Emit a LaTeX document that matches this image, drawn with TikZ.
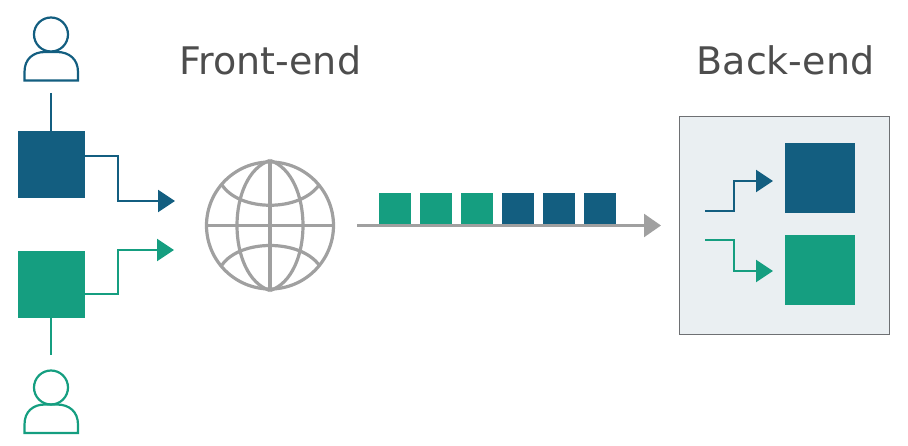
\documentclass[tikz,border=0pt]{standalone}
\usepackage{fontspec}
\setmainfont{DejaVu Sans}
\usetikzlibrary{arrows.meta}
\definecolor{cblue}{HTML}{135E80}
\definecolor{cgreen}{HTML}{159E80}
\definecolor{cgray}{HTML}{A0A0A0}
\definecolor{ctext}{HTML}{4D4D4D}
\definecolor{cpanel}{HTML}{EAEFF2}
\definecolor{cedge}{HTML}{6E7073}
\tikzset{
  x=1pt,y=-1pt,
  block/.style n args={2}{fill=#1,draw=none,inner sep=0pt,minimum width=#2,minimum height=#2},
  link/.style={draw=#1,line width=2.2pt},
  flow/.style={draw=#1,line width=2.2pt,-{Triangle[length=17pt,width=22pt,fill=#1]},line join=miter},
  person/.style={draw=#1,line width=2.2pt,fill=none},
  globeline/.style={draw=cgray,line width=3.2pt},
  title/.style={text=ctext,font=\fontsize{38}{41}\selectfont,anchor=base west,inner sep=0pt},
}
\begin{document}
\begin{tikzpicture}
\useasboundingbox (0,0) rectangle (908,446);
% titles
\node[title] (front) at (179.5,74.5) {Front-end};
\node[title] (back) at (696.5,74.5) {Back-end};
% users
\node[person=cblue,circle,minimum size=34pt,inner sep=0pt] (headA) at (51,34.5) {};
\draw[person=cblue] (24.5,80.5) -- (24.5,72) .. controls (24.5,59) and (33,52) .. (45,52) -- (57,52) .. controls (69,52) and (78,59) .. (78,72) -- (78,80.5) -- cycle;
\node[person=cgreen,circle,minimum size=34pt,inner sep=0pt] (headB) at (51,387.5) {};
\draw[person=cgreen] (24.5,433) -- (24.5,424.5) .. controls (24.5,411.5) and (33,404.5) .. (45,404.5) -- (57,404.5) .. controls (69,404.5) and (78,411.5) .. (78,424.5) -- (78,433) -- cycle;
% client blocks
\node[block={cblue}{67pt}] (sqA) at (51.5,164.5) {};
\node[block={cgreen}{67pt}] (sqB) at (51.5,284.5) {};
\coordinate (userA) at (51,93);
\coordinate (userB) at (51,355);
\draw[link=cblue] (userA) -- (userA |- sqA.north);
\draw[link=cgreen] (userB) -- (userB |- sqB.south);
\coordinate (inA) at (175,201);
\coordinate (inB) at (174,250);
\draw[flow=cblue] (sqA.east |- 0,156) -- (118,156) -- (118,201) -- (inA);
\draw[flow=cgreen] (sqB.east |- 0,294) -- (118,294) -- (118,250) -- (inB);
% globe
\node[globeline,circle,minimum size=127pt,inner sep=0pt] (globe) at (270,225.5) {};
\draw[globeline] (globe.north) -- (globe.south);
\draw[globeline] (globe.west) -- (globe.east);
\draw[globeline] (globe.north) .. controls (226,175) and (226,276) .. (globe.south);
\draw[globeline] (globe.north) .. controls (314,175) and (314,276) .. (globe.south);
\draw[globeline] (222,185) .. controls (240,212) and (300,212) .. (319,185);
\draw[globeline] (222,265) .. controls (240,239) and (300,239) .. (319,265);
% queue
\node[block={cgreen}{32pt},anchor=north west] (q1) at (379,193) {};
\node[block={cgreen}{32pt},anchor=north west] (q2) at (420,193) {};
\node[block={cgreen}{32pt},anchor=north west] (q3) at (461,193) {};
\node[block={cblue}{32pt},anchor=north west] (q4) at (501.5,193) {};
\node[block={cblue}{32pt},anchor=north west] (q5) at (542.5,193) {};
\node[block={cblue}{32pt},anchor=north west] (q6) at (583.5,193) {};
\coordinate (qstart) at (357,225.5);
\coordinate (qend) at (661,225.5);
\draw[draw=cgray,line width=2.5pt,-{Triangle[length=17pt,width=23pt,fill=cgray]}] (qstart) -- (qend);
% back-end panel
\node[draw=cedge,fill=cpanel,line width=1.3pt,inner sep=0pt,minimum width=210pt,minimum height=218pt,anchor=north west] (panel) at (679,116) {};
\node[block={cblue}{70pt},anchor=north west] (srvA) at (785,143) {};
\node[block={cgreen}{70pt},anchor=north west] (srvB) at (785,234.5) {};
\coordinate (pA) at (705,211);
\coordinate (pB) at (705,240);
\coordinate (tA) at (773,181);
\coordinate (tB) at (773,271);
\draw[flow=cblue] (pA) -- (734,211) -- (734,181) -- (tA);
\draw[flow=cgreen] (pB) -- (734,240) -- (734,271) -- (tB);
\end{tikzpicture}
\end{document}
